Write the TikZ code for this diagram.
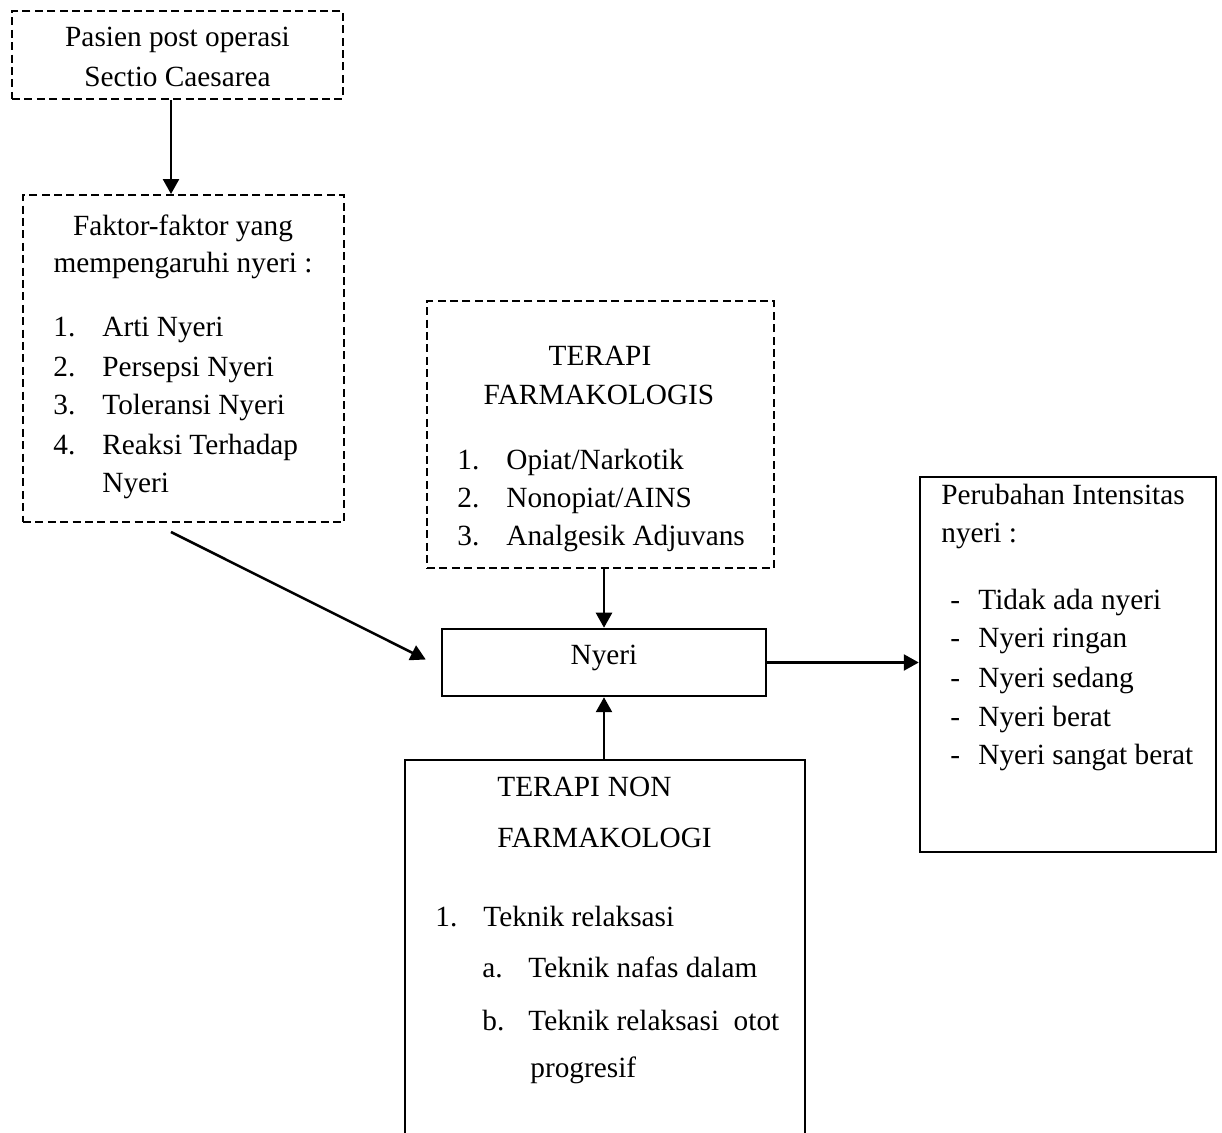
\documentclass[tikz,border=0pt]{standalone}
\usepackage{fontspec}
\setmainfont{Liberation Serif}
\usetikzlibrary{arrows.meta}
\begin{document}
\begin{tikzpicture}[x=0.5pt,y=-0.5pt,
  every node/.style={font=\fontsize{14.65pt}{17pt}\selectfont, inner sep=0pt},
  solidbox/.style={draw, line width=1.25pt},
  dashbox/.style={draw, line width=0.95pt, dash pattern=on 4pt off 2.2pt},
  conn/.style={line width=1.25pt, -{Triangle[length=7.5pt,width=8pt]}},
  ctext/.style={anchor=base},
  ltext/.style={anchor=base west}
]
\fill[white] (0,0) rectangle (1222,1133);
\useasboundingbox (0,0) rectangle (1222,1133);

% Box 1
\node[dashbox, minimum width=165.5pt, minimum height=44pt] (pasien) at (177.5,55) {};
\node[ctext] (pasienA) at (177.5,47) {Pasien post operasi};
\node[ctext] (pasienB) at (177.5,87) {Sectio Caesarea};

% Box 2
\node[dashbox, minimum width=160.5pt, minimum height=163.5pt] (faktor) at (183.5,358.5) {};
\node[ctext] (faktorA) at (183,236) {Faktor-faktor yang};
\node[ctext] (faktorB) at (183,273) {mempengaruhi nyeri :};
\node[ltext] (fn1) at (53,337) {1.};
\node[ltext] (ft1) at (102,337) {Arti Nyeri};
\node[ltext] (fn2) at (53,377) {2.};
\node[ltext] (ft2) at (102,377) {Persepsi Nyeri};
\node[ltext] (fn3) at (53,415) {3.};
\node[ltext] (ft3) at (102,415) {Toleransi Nyeri};
\node[ltext] (fn4) at (53,455) {4.};
\node[ltext] (ft4) at (102,455) {Reaksi Terhadap};
\node[ltext] (ft5) at (102,493) {Nyeri};

% Box 3
\node[dashbox, minimum width=173.5pt, minimum height=133.5pt] (farma) at (600.5,434.5) {};
\node[ctext] (farmaA) at (600,366) {TERAPI};
\node[ctext] (farmaB) at (599,405) {FARMAKOLOGIS};
\node[ltext] (pn1) at (457,470) {1.};
\node[ltext] (pt1) at (506,470) {Opiat/Narkotik};
\node[ltext] (pn2) at (457,508) {2.};
\node[ltext] (pt2) at (506,508) {Nonopiat/AINS};
\node[ltext] (pn3) at (457,546) {3.};
\node[ltext] (pt3) at (506,546) {Analgesik Adjuvans};

% Nyeri
\node[solidbox, minimum width=162pt, minimum height=33.5pt, text height=0.66em, text depth=0.43em] (nyeri) at (604,662.5) {Nyeri};

% Right box
\node[solidbox, minimum width=148pt, minimum height=187.5pt] (hasil) at (1068,664.5) {};
\node[ltext] (hasilA) at (941,505) {Perubahan Intensitas};
\node[ltext] (hasilB) at (941,543) {nyeri :};
\node[ltext] (hd1) at (950,610) {-};
\node[ltext] (ht1) at (978,610) {Tidak ada nyeri};
\node[ltext] (hd2) at (950,648) {-};
\node[ltext] (ht2) at (978,648) {Nyeri ringan};
\node[ltext] (hd3) at (950,688) {-};
\node[ltext] (ht3) at (978,688) {Nyeri sedang};
\node[ltext] (hd4) at (950,727) {-};
\node[ltext] (ht4) at (978,727) {Nyeri berat};
\node[ltext] (hd5) at (950,765) {-};
\node[ltext] (ht5) at (978,765) {Nyeri sangat berat};

% Bottom box (runs past the lower edge)
\node[solidbox, minimum width=200pt, minimum height=200pt] (nonfarma) at (605,960) {};
\node[ltext] (nonA) at (497,797) {TERAPI\hspace{4pt}NON};
\node[ltext] (nonB) at (497,848) {FARMAKOLOGI};
\node[ltext] (nn1) at (435,927) {1.};
\node[ltext] (nt1) at (483,927) {Teknik relaksasi};
\node[ltext] (na) at (482,978) {a.};
\node[ltext] (nta) at (528,978) {Teknik nafas dalam};
\node[ltext] (nb) at (482,1030) {b.};
\node[ltext] (ntb) at (528,1030) {Teknik relaksasi\hspace{3.6pt} otot};
\node[ltext] (ntc) at (530,1077) {progresif};

% Connectors
\coordinate (colA) at (171,0);
\coordinate (diagStart) at (171,532);
\draw[conn] (pasien.south -| colA) -- (faktor.north -| colA);
\draw[conn] (diagStart) -- ([xshift=-7.5pt,yshift=1.5pt]nyeri.west);
\draw[conn] (farma.south -| nyeri.north) -- (nyeri.north);
\draw[conn] (nonfarma.north -| nyeri.south) -- (nyeri.south);
\draw[conn] (nyeri.east) -- (nyeri.east -| hasil.west);
\end{tikzpicture}
\end{document}
